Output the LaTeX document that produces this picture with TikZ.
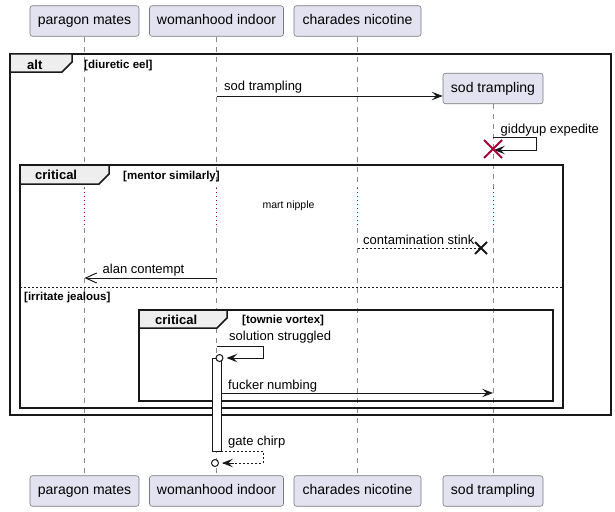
\documentclass[tikz,border=0pt]{standalone}
\usepackage{fontspec}
\setmainfont{Liberation Sans}
\usetikzlibrary{arrows.meta}
\definecolor{partfill}{HTML}{E2E2F0}
\definecolor{partdraw}{HTML}{7A7A7A}
\definecolor{lineclr}{HTML}{181818}
\definecolor{lifeclr}{HTML}{8A8A8A}
\definecolor{delayred}{HTML}{A80036}
\definecolor{tabfill}{HTML}{EEEEEE}
\tikzset{
  part/.style={draw=partdraw, line width=0.6pt, fill=partfill, rounded corners=2.5pt,
    minimum height=30.5pt, inner sep=0pt, font=\fontsize{14}{16}\selectfont,
    text height=10pt, text depth=3pt},
  life/.style={draw=lifeclr, line width=0.6pt, dash pattern=on 5pt off 5pt},
  delayline/.style={draw=delayred, line width=0.9pt, dash pattern=on 1pt off 3pt},
  framebox/.style={draw=lineclr, line width=1.5pt},
  tabbox/.style={draw=lineclr, line width=1.5pt, fill=tabfill},
  tablabel/.style={font=\fontsize{13}{15}\selectfont\bfseries, inner sep=0pt, anchor=base west},
  guard/.style={font=\fontsize{11.5}{13}\selectfont\bfseries, inner sep=0pt, anchor=base west},
  msglabel/.style={font=\fontsize{13}{15}\selectfont, inner sep=0pt, anchor=base west},
  delaylabel/.style={font=\fontsize{10.5}{12}\selectfont, inner sep=0pt},
  filledtip/.style={-{Stealth[length=11pt,width=8.5pt,inset=4.5pt]}},
  msg/.style={draw=lineclr, line width=1pt, filledtip},
  msgdash/.style={draw=lineclr, line width=1pt, dash pattern=on 2pt off 2pt},
  msgopen/.style={draw=lineclr, line width=1pt, -{Straight Barb[length=11pt,width=10pt,line width=1pt]}},
  sepline/.style={draw=lineclr, line width=1pt, dash pattern=on 2pt off 2pt},
  endcirc/.style={circle, draw=lineclr, line width=1pt, fill=white, minimum size=7pt, inner sep=0pt},
  actbar/.style={draw=lineclr, line width=1pt, fill=white},
  redx/.style={draw=delayred, line width=2pt},
  blackx/.style={draw=lineclr, line width=2pt}
}
\begin{document}
\begin{tikzpicture}[x=1pt,y=-1pt]
\useasboundingbox (0,0) rectangle (615,511);
% participants
\node[part, minimum width=109pt] (pmT) at (84.5,21) {paragon mates};
\node[part, minimum width=134pt] (wiT) at (216.5,21) {womanhood indoor};
\node[part, minimum width=127pt] (cnT) at (357.5,21) {charades nicotine};
\node[part, minimum width=100pt] (stT) at (493,88.5) {sod trampling};
\node[part, minimum width=109pt] (pmB) at (84.5,491) {paragon mates};
\node[part, minimum width=134pt] (wiB) at (216.5,491) {womanhood indoor};
\node[part, minimum width=127pt] (cnB) at (357.5,491) {charades nicotine};
\node[part, minimum width=100pt] (stB) at (493,491) {sod trampling};
% lifeline coordinates
\coordinate (pm1) at (84.5,188); \coordinate (pm2) at (84.5,228);
\coordinate (wi1) at (216.5,188); \coordinate (wi2) at (216.5,228);
\coordinate (cn1) at (357.5,188); \coordinate (cn2) at (357.5,228);
\coordinate (st1) at (493,188); \coordinate (st2) at (493,228);
\draw[life] (pmT.south) -- (pm1); \draw[delayline] (pm1) -- (pm2); \draw[life] (pm2) -- (pmB.north);
\draw[life] (wiT.south) -- (wi1); \draw[delayline] (wi1) -- (wi2); \draw[life] (wi2) -- (wiB.north);
\draw[life] (cnT.south) -- (cn1); \draw[delayline] (cn1) -- (cn2); \draw[life] (cn2) -- (cnB.north);
\draw[life] (stT.south) -- (st1); \draw[delayline] (st1) -- (st2); \draw[life] (st2) -- (stB.north);
% frames
\draw[framebox] (10,54) rectangle (611,415);
\draw[tabbox] (10,54) -- (72,54) -- (72,62) -- (62,72) -- (10,72) -- cycle;
\node[tablabel] (altL) at (27,69.5) {alt};
\node[guard] (altG) at (84,68) {[diuretic eel]};
\draw[framebox] (20,165) rectangle (563,408);
\draw[tabbox] (20,165) -- (109,165) -- (109,174) -- (99,184) -- (20,184) -- cycle;
\node[tablabel] (crL1) at (35,179.5) {critical};
\node[guard] (crG1) at (123,179) {[mentor similarly]};
\draw[sepline] (20,287) -- (563,287);
\node[guard] (elseG) at (24,300) {[irritate jealous]};
\draw[framebox] (139,310) rectangle (553,401);
\draw[tabbox] (139,310) -- (227,310) -- (227,318) -- (217,328) -- (139,328) -- cycle;
\node[tablabel] (crL2) at (155,324.5) {critical};
\node[guard] (crG2) at (242,323) {[townie vortex]};
% message: sod trampling (create)
\coordinate (m1s) at (216.5,96);
\draw[msg] (m1s) -- ([yshift=-7.5pt]stT.west);
\node[msglabel] (m1L) at (224,90.5) {sod trampling};
% self message giddyup expedite + destroy
\coordinate (m2a) at (493,137); \coordinate (m2b) at (536,137);
\coordinate (m2c) at (536,150); \coordinate (m2d) at (494,150);
\draw[msg] (m2a) -- (m2b) -- (m2c) -- (m2d);
\node[msglabel] (m2L) at (500.5,133.5) {giddyup expedite};
\coordinate (x1a) at (484,140); \coordinate (x1b) at (502,158);
\coordinate (x1c) at (484,158); \coordinate (x1d) at (502,140);
\draw[redx] (x1a) -- (x1b); \draw[redx] (x1c) -- (x1d);
% delay
\node[delaylabel] (dl) at (288.5,206) {mart nipple};
% contamination stink
\coordinate (m3s) at (357.5,248); \coordinate (m3e) at (481,248);
\draw[msgdash] (m3s) -- (m3e);
\coordinate (x2a) at (475,242); \coordinate (x2b) at (487,254);
\coordinate (x2c) at (475,254); \coordinate (x2d) at (487,242);
\draw[blackx] (x2a) -- (x2b); \draw[blackx] (x2c) -- (x2d);
\node[msglabel] (m3L) at (363,244.5) {contamination stink};
% alan contempt
\coordinate (m4s) at (216.5,278); \coordinate (m4e) at (84.5,278);
\draw[msgopen] (m4s) -- (m4e);
\node[msglabel] (m4L) at (102.5,273.5) {alan contempt};
% activation bar
\node[actbar, minimum width=9pt, minimum height=93pt, inner sep=0pt, anchor=north west] (act) at (212,358) {};
% solution struggled
\coordinate (m5a) at (216.5,346); \coordinate (m5b) at (263,346);
\coordinate (m5c) at (263,358);
\node[endcirc] (c1) at (219.5,358) {};
\draw[msg] (m5a) -- (m5b) -- (m5c) -- ([xshift=3pt]c1.east);
\node[msglabel] (m5L) at (229,340.5) {solution struggled};
% fucker numbing
\coordinate (m6s) at (221,393); \coordinate (m6e) at (493,393);
\draw[msg] (m6s) -- (m6e);
\node[msglabel] (m6L) at (228,389) {fucker numbing};
% gate chirp
\coordinate (m7a) at (221,451); \coordinate (m7b) at (263,451);
\coordinate (m7c) at (263,463);
\node[endcirc] (c2) at (215,463) {};
\draw[msgdash] (m7a) -- (m7b) -- (m7c) -- ([xshift=3pt]c2.east);
\draw[draw=lineclr, line width=1pt, filledtip] ([xshift=15pt]c2.east) -- ([xshift=3pt]c2.east);
\node[msglabel] (m7L) at (228,445.5) {gate chirp};
\end{tikzpicture}
\end{document}
